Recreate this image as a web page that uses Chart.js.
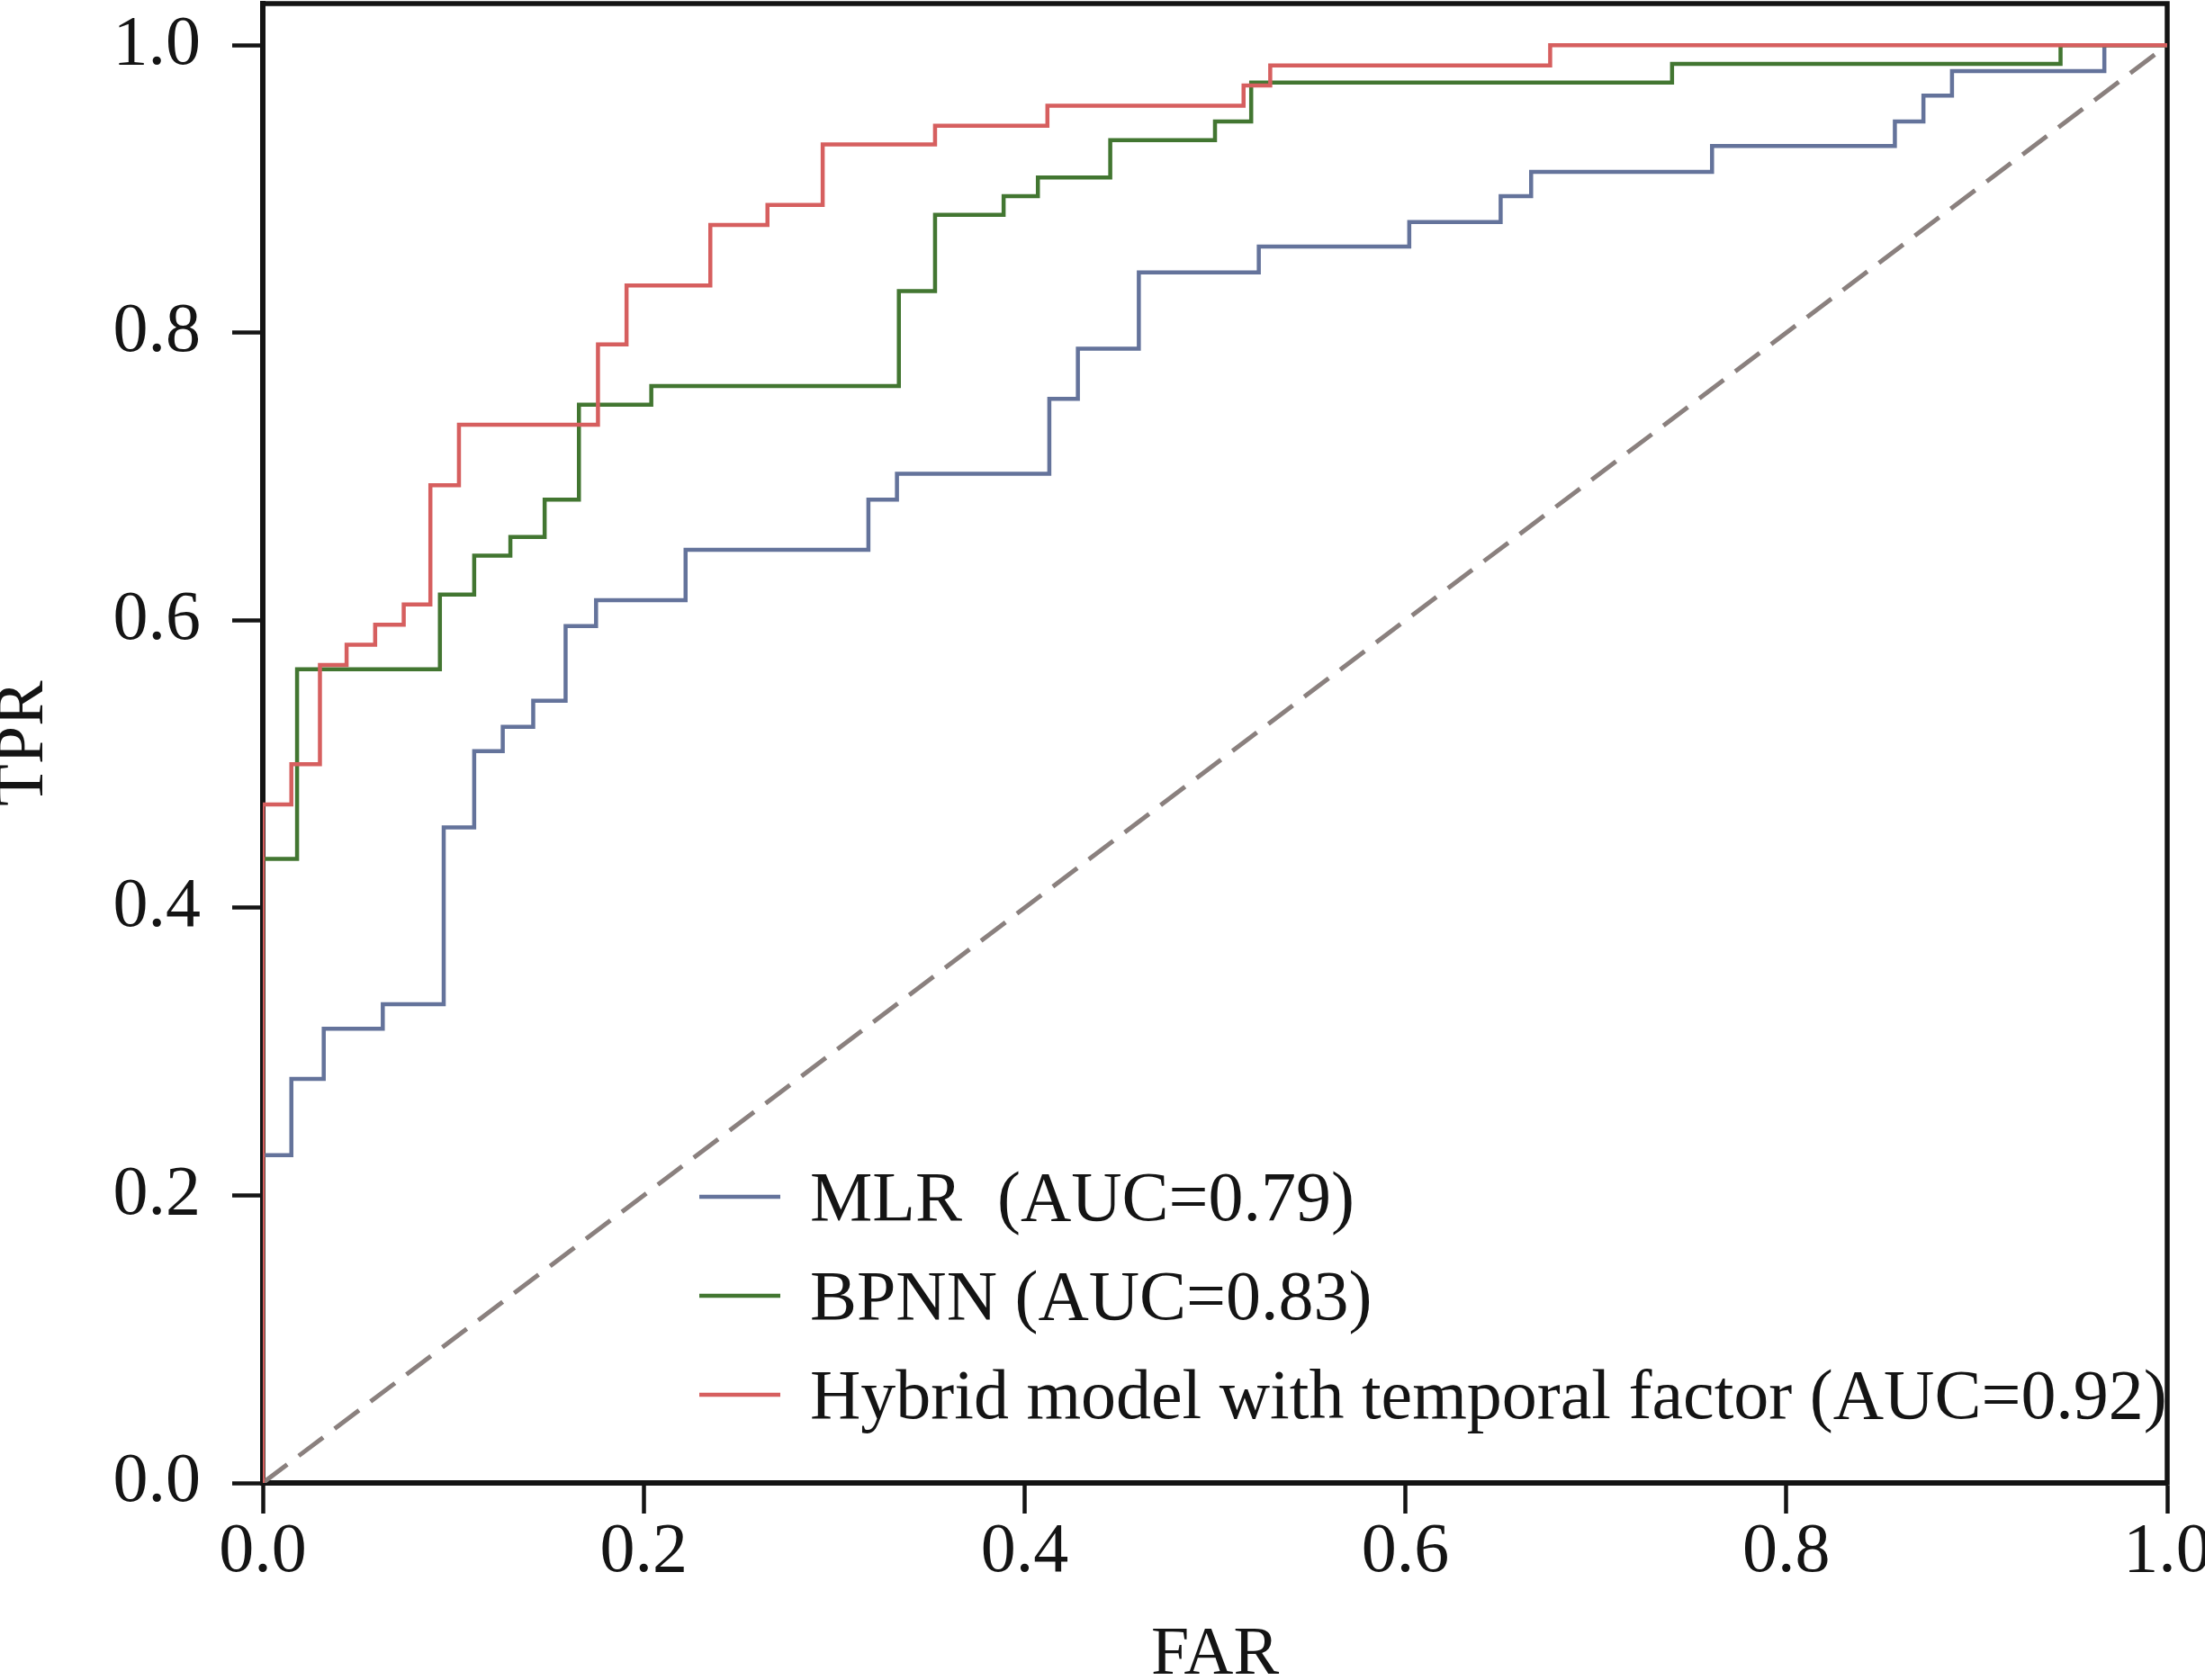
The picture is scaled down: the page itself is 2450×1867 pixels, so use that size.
<!DOCTYPE html>
<html>
<head>
<meta charset="utf-8">
<script src="https://cdn.jsdelivr.net/npm/chart.js@4.4.1/dist/chart.umd.min.js"></script>
<style>
  html, body { margin: 0; padding: 0; background: #fff; }
  canvas { display: block; }
</style>
</head>
<body>
<canvas id="roc" width="2450" height="1867" style="width:2450px;height:1867px"></canvas>
<script>
// ROC corner points (x = FAR, y = TPR)
const fprMLR = [0, 0, 0.015, 0.032, 0.063, 0.095, 0.111, 0.126, 0.142, 0.159, 0.175, 0.222, 0.318, 0.333, 0.413, 0.428, 0.460, 0.523, 0.602, 0.650, 0.666, 0.761, 0.857, 0.872, 0.887, 0.967, 1]
const tprMLR = [0, 0.228, 0.281, 0.316, 0.333, 0.456, 0.509, 0.526, 0.544, 0.596, 0.614, 0.649, 0.684, 0.702, 0.754, 0.789, 0.842, 0.860, 0.877, 0.895, 0.912, 0.930, 0.947, 0.965, 0.982, 1.0, 1.0]

const fprBPNN = [0, 0, 0.018, 0.093, 0.111, 0.130, 0.148, 0.166, 0.204, 0.334, 0.353, 0.389, 0.407, 0.445, 0.500, 0.519, 0.740, 0.944, 1]
const tprBPNN = [0, 0.434, 0.566, 0.618, 0.645, 0.658, 0.684, 0.750, 0.763, 0.829, 0.882, 0.895, 0.908, 0.934, 0.947, 0.974, 0.987, 1.0, 1.0]

const fprHybrid = [0, 0, 0.015, 0.030, 0.044, 0.059, 0.074, 0.088, 0.103, 0.176, 0.191, 0.235, 0.265, 0.294, 0.353, 0.412, 0.515, 0.529, 0.676, 1]
const tprHybrid = [0, 0.472, 0.500, 0.569, 0.583, 0.597, 0.611, 0.694, 0.736, 0.792, 0.833, 0.875, 0.889, 0.931, 0.944, 0.958, 0.972, 0.986, 1.0, 1.0]

const chanceLine = [0, 1]

const seriesLabels = ['MLR  (AUC=0.79)', 'BPNN (AUC=0.83)', 'Hybrid model with temporal factor (AUC=0.92)']
const xTicks = [0, 0.2, 0.4, 0.6, 0.8, 1.0]
const yTicks = [0, 0.2, 0.4, 0.6, 0.8, 1.0]

const FONT = '"Liberation Serif", "Times New Roman", serif'
const INK = '#141414'
const colors = ['#64739b', '#427631', '#d65f5f']

function toPoints (xs, ys) {
  return xs.map((x, i) => ({ x, y: ys[i] }))
}

function rocDataset (label, xs, ys, color, order) {
  return {
    label,
    data: toPoints(xs, ys),
    showLine: true,
    stepped: 'before',
    borderColor: color,
    borderWidth: 4.5,
    pointRadius: 0,
    fill: false,
    order
  }
}

// box around the plot, drawn under the curves
const framePlugin = {
  id: 'frame',
  beforeDatasetsDraw (chart) {
    const { ctx, chartArea } = chart
    ctx.save()
    ctx.strokeStyle = INK
    ctx.lineWidth = 5.5
    ctx.strokeRect(chartArea.left, chartArea.top, chartArea.right - chartArea.left, chartArea.bottom - chartArea.top)
    ctx.restore()
  }
}

// legend sitting inside the lower right of the plot
const legendPlugin = {
  id: 'insideLegend',
  afterDatasetsDraw (chart) {
    const { ctx, chartArea } = chart
    const lineStart = chartArea.left + 485
    const lineEnd = lineStart + 90
    const textX = lineEnd + 33
    ctx.save()
    seriesLabels.forEach((label, i) => {
      const y = chartArea.top + 1326 + i * 110
      ctx.strokeStyle = colors[i]
      ctx.lineWidth = 4.5
      ctx.beginPath()
      ctx.moveTo(lineStart, y)
      ctx.lineTo(lineEnd, y)
      ctx.stroke()
      ctx.save()
      ctx.translate(textX, y + 26)
      ctx.scale(0.987, 1)
      ctx.fillStyle = INK
      ctx.font = '79px ' + FONT
      ctx.textBaseline = 'alphabetic'
      ctx.fillText(label, 0, 0)
      ctx.restore()
    })
    ctx.restore()
  }
}

new Chart(document.getElementById('roc'), {
  type: 'scatter',
  data: {
    datasets: [
      rocDataset(seriesLabels[2], fprHybrid, tprHybrid, colors[2], 0),
      rocDataset(seriesLabels[1], fprBPNN, tprBPNN, colors[1], 1),
      rocDataset(seriesLabels[0], fprMLR, tprMLR, colors[0], 2),
      {
        label: 'chance',
        data: toPoints(chanceLine, chanceLine),
        showLine: true,
        borderColor: '#8a807e',
        borderWidth: 5,
        borderDash: [34, 16],
        pointRadius: 0,
        fill: false,
        order: 3
      }
    ]
  },
  options: {
    responsive: false,
    animation: false,
    devicePixelRatio: 1,
    layout: { padding: { top: 4, right: 42, left: 0, bottom: 0 } },
    plugins: {
      legend: { display: false },
      tooltip: { enabled: false }
    },
    scales: {
      x: {
        type: 'linear',
        min: 0,
        max: 1,
        afterBuildTicks: scale => { scale.ticks = xTicks.map(value => ({ value })) },
        afterFit: scale => {
          scale.height = 219
          scale.paddingLeft = 0
          scale.paddingRight = 0
        },
        ticks: {
          callback: v => v.toFixed(1),
          color: INK,
          font: { family: FONT, size: 78 },
          padding: -3,
          maxRotation: 0,
          autoSkip: false
        },
        grid: { drawOnChartArea: false, drawTicks: true, tickLength: 34, tickWidth: 4.5, tickColor: INK },
        border: { display: true, color: INK, width: 6 },
        title: { display: true, text: 'FAR', color: INK, font: { family: FONT, size: 76, lineHeight: 0.71 }, padding: 0 }
      },
      y: {
        type: 'linear',
        min: 0,
        max: 1.029,
        afterBuildTicks: scale => { scale.ticks = yTicks.map(value => ({ value })) },
        afterFit: scale => {
          scale.width = 292
          scale.paddingTop = 0
          scale.paddingBottom = 0
        },
        ticks: {
          callback: v => v.toFixed(1),
          color: INK,
          font: { family: FONT, size: 78 },
          padding: 35,
          autoSkip: false
        },
        grid: { drawOnChartArea: false, drawTicks: true, tickLength: 34, tickWidth: 4.5, tickColor: INK },
        border: { display: true, color: INK, width: 6 },
        title: { display: true, text: 'TPR', color: INK, font: { family: FONT, size: 76, lineHeight: 0.71 }, padding: 0 }
      }
    }
  },
  plugins: [framePlugin, legendPlugin]
})
</script>
</body>
</html>
